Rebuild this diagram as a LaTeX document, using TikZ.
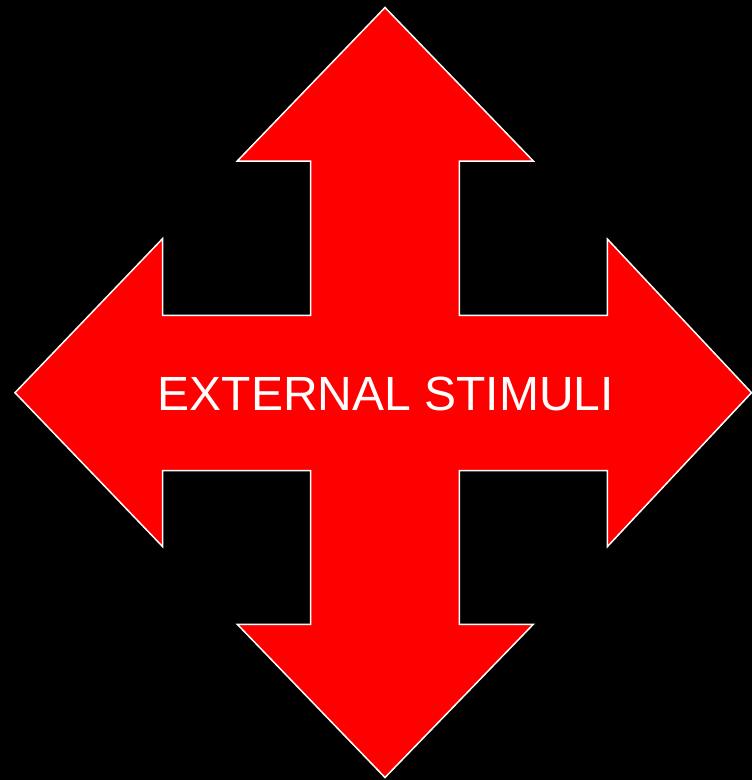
\documentclass[tikz,border=0pt]{standalone}
\usepackage{fontspec}
\setmainfont{Liberation Sans}
\definecolor{arrowred}{RGB}{255,0,0}
\tikzset{
  arrowshape/.style={fill=arrowred, draw=white, line width=1.5pt, line join=miter},
  label/.style={text=white, font=\fontsize{48}{50}\selectfont, inner sep=0pt}
}
\begin{document}
\begin{tikzpicture}[x=1pt,y=-1pt]
\fill[black] (0,0) rectangle (752,780);
\useasboundingbox (0,0) rectangle (752,780);
\draw[arrowshape]
 (385,7.5) -- (533.3,161) -- (459.3,161) -- (459.3,315.3) -- (607.3,315.3) -- (607.3,239)
 -- (751.5,392.7) -- (607.3,546.7) -- (607.3,470.5) -- (459.3,470.5) -- (459.3,624.3)
 -- (533.3,624.3) -- (385,777.5) -- (237.3,624.3) -- (310.7,624.3) -- (310.7,470.5)
 -- (162.7,470.5) -- (162.7,546.7) -- (15,392.7) -- (162.7,238.5) -- (162.7,315.3)
 -- (310.7,315.3) -- (310.7,161) -- (237.3,161) -- cycle;
\node[label, anchor=base] (t) at (385.8,410.8) {EXTERNAL STIMULI};
\end{tikzpicture}
\end{document}
